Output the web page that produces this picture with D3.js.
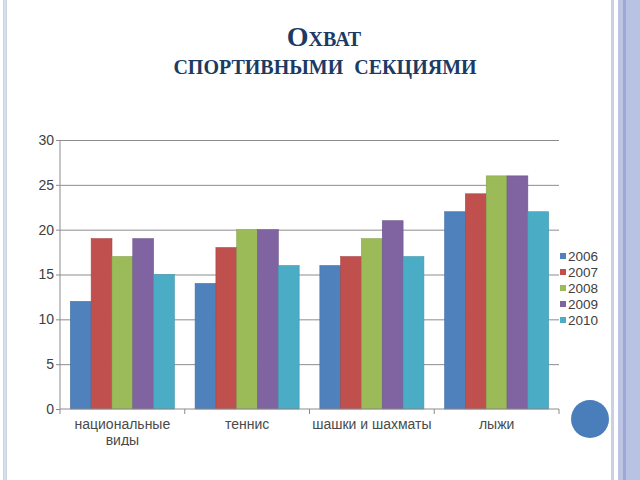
<!DOCTYPE html>
<html>
<head>
<meta charset="utf-8">
<script src="https://cdn.jsdelivr.net/npm/d3@7"></script>
<style>
    html, body { margin: 0; padding: 0; background: #fff; }
    svg { display: block; }
</style>
</head>
<body>
<div id="chart"></div>
<script>
var categories = ['национальные виды', 'теннис', 'шашки и шахматы', 'лыжи'];
var years = ['2006', '2007', '2008', '2009', '2010'];
var values2006 = [12, 14, 16, 22];
var values2007 = [19, 18, 17, 24];
var values2008 = [17, 20, 19, 26];
var values2009 = [19, 20, 21, 26];
var values2010 = [15, 16, 17, 22];
var yTicks = [0, 5, 10, 15, 20, 25, 30];

var seriesValues = [values2006, values2007, values2008, values2009, values2010];
var colors = ['#4f81bd', '#c0504d', '#9bbb59', '#8064a2', '#4bacc6'];

var width = 640;
var height = 480;
var plot = { left: 60, right: 559, top: 140, bottom: 409 };
var labelFont = '"Liberation Sans", Arial, sans-serif';

var svg = d3.select('#chart').append('svg')
    .attr('width', width)
    .attr('height', height);

// slide decoration
svg.append('rect').attr('x', 3).attr('y', 0).attr('width', 4).attr('height', height).attr('fill', '#c9d3e6');
svg.append('rect').attr('x', 4.5).attr('y', 0).attr('width', 1).attr('height', height).attr('fill', '#e4eaf4');
svg.append('rect').attr('x', 611).attr('y', 0).attr('width', 3).attr('height', height).attr('fill', '#c8d0e2');
svg.append('rect').attr('x', 618).attr('y', 0).attr('width', 5).attr('height', height).attr('fill', '#bcc6e4');
svg.append('rect').attr('x', 623).attr('y', 0).attr('width', 3).attr('height', height).attr('fill', '#9ca8d6');
svg.append('rect').attr('x', 626).attr('y', 0).attr('width', 14).attr('height', height).attr('fill', '#b8c2e2');
svg.append('circle').attr('cx', 590).attr('cy', 419).attr('r', 19).attr('fill', '#4a7ebb');

// title
var title = svg.append('text')
    .attr('text-anchor', 'middle')
    .attr('fill', '#1b3a64')
    .style('font-family', '"Liberation Serif", "DejaVu Serif", serif')
    .style('font-variant', 'small-caps')
    .style('font-weight', 'bold')
    .style('font-size', '28px');
title.append('tspan').attr('x', 324).attr('y', 46).text('Охват');
title.append('tspan').attr('x', 325).attr('y', 74).style('word-spacing', '4px').text('спортивными секциями');

var x = d3.scaleBand()
    .domain(categories)
    .range([plot.left, plot.right])
    .paddingInner(0.166)
    .paddingOuter(0.083);

var xSeries = d3.scaleBand()
    .domain(years)
    .range([0, x.bandwidth()]);

var y = d3.scaleLinear()
    .domain([0, 30])
    .range([plot.bottom, plot.top]);

// gridlines
svg.append('g')
    .attr('transform', 'translate(' + plot.left + ',0)')
    .call(d3.axisLeft(y).tickValues(yTicks.slice(1)).tickSize(-(plot.right - plot.left)).tickFormat(''))
    .call(function(g) {
        g.select('.domain').remove();
        g.selectAll('line').attr('stroke', '#8c8c8c');
    });

// bars
var groups = svg.append('g')
    .selectAll('g')
    .data(categories)
    .enter().append('g')
    .attr('transform', function(d) {
        return 'translate(' + x(d) + ',0)';
    });

groups.selectAll('rect')
    .data(function(d, i) {
        return years.map(function(year, s) {
            return { year: year, value: seriesValues[s][i], color: colors[s] };
        });
    })
    .enter().append('rect')
    .attr('x', function(d) {
        return xSeries(d.year);
    })
    .attr('y', function(d) {
        return y(d.value);
    })
    .attr('width', xSeries.bandwidth())
    .attr('height', function(d) {
        return y(0) - y(d.value);
    })
    .attr('fill', function(d) {
        return d.color;
    })
    .attr('stroke', function(d) {
        return d3.color(d.color).darker(0.4);
    })
    .attr('stroke-width', 0.6);

// y axis
svg.append('g')
    .attr('transform', 'translate(' + plot.left + ',0)')
    .call(d3.axisLeft(y).tickValues(yTicks).tickSize(4).tickPadding(2))
    .call(function(g) {
        g.select('.domain').attr('stroke', '#8c8c8c').attr('d', 'M0,' + plot.bottom + 'V' + plot.top);
        g.selectAll('line').attr('stroke', '#8c8c8c');
        g.selectAll('text')
            .attr('fill', '#404040')
            .style('font-family', labelFont)
            .style('font-size', '14px');
    });

// x axis line with ticks at category boundaries
var boundaries = categories.map(function(c) {
    return x(c) - x.step() * x.paddingInner() / 2;
});
boundaries.push(plot.right);

var xAxis = svg.append('g');
xAxis.append('line')
    .attr('x1', plot.left).attr('x2', plot.right)
    .attr('y1', plot.bottom).attr('y2', plot.bottom)
    .attr('stroke', '#8c8c8c');
xAxis.selectAll('line.tick')
    .data(boundaries)
    .enter().append('line')
    .attr('class', 'tick')
    .attr('x1', function(d) { return d; })
    .attr('x2', function(d) { return d; })
    .attr('y1', plot.bottom)
    .attr('y2', plot.bottom + 5)
    .attr('stroke', '#8c8c8c');

svg.append('clipPath').attr('id', 'labelClip')
    .append('rect').attr('x', 0).attr('y', 0).attr('width', width).attr('height', 446);

var labels = svg.append('g')
    .attr('clip-path', 'url(#labelClip)')
    .selectAll('text')
    .data(categories)
    .enter().append('text')
    .attr('text-anchor', 'middle')
    .attr('fill', '#4a4a4a')
    .style('font-family', labelFont)
    .style('font-size', '14px')
    .attr('x', function(d) {
        return x(d) + x.bandwidth() / 2;
    })
    .attr('y', 429);

labels.each(function(d) {
    var text = d3.select(this);
    var words = d.split(' ');
    var line = [];
    var cx = text.attr('x');
    var tspan = text.append('tspan').attr('x', cx);
    words.forEach(function(word) {
        line.push(word);
        tspan.text(line.join(' '));
        if (tspan.node().getComputedTextLength() > x.step() - 4 && line.length > 1) {
            line.pop();
            tspan.text(line.join(' '));
            line = [word];
            tspan = text.append('tspan').attr('x', cx).attr('dy', 16).text(word);
        }
    });
});

// legend
var legend = svg.append('g')
    .selectAll('g')
    .data(years)
    .enter().append('g')
    .attr('transform', function(d, i) {
        return 'translate(560,' + (256 + i * 16) + ')';
    });

legend.append('rect')
    .attr('x', 0).attr('y', -3)
    .attr('width', 6).attr('height', 6)
    .attr('fill', function(d, i) {
        return colors[i];
    });

legend.append('text')
    .attr('x', 8)
    .attr('y', 5)
    .attr('fill', '#404040')
    .style('font-family', labelFont)
    .style('font-size', '13.5px')
    .text(function(d) {
        return d;
    });
</script>
</body>
</html>
